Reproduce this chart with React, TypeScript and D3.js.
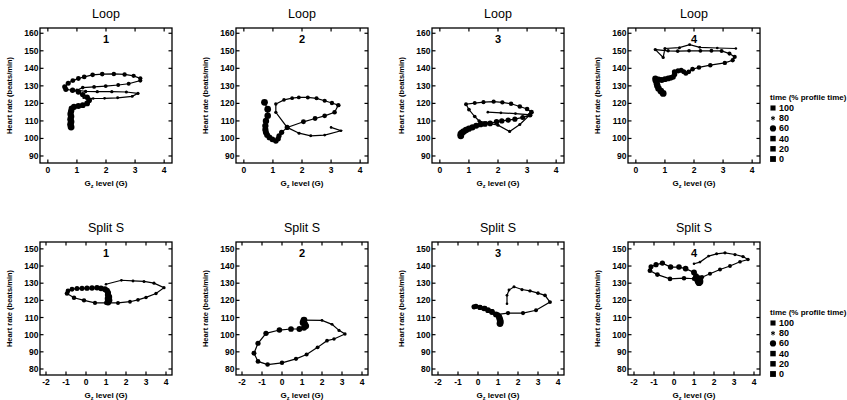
import * as d3 from "d3";

const W = 847;
const H = 400;

// panel titles / numbers
const rowTitles = ["Loop", "Split S"];
const panelNumbers = ["1", "2", "3", "4"];

// axis ticks
const loopXTicks = [0, 1, 2, 3, 4];
const loopYTicks = [90, 100, 110, 120, 130, 140, 150, 160];
const splitXTicks = [-2, -1, 0, 1, 2, 3, 4];
const splitYTicks = [80, 90, 100, 110, 120, 130, 140, 150];

const legendTitle = "time (% profile time)";
const legendLabels = ["100", "80", "60", "40", "20", "0"];

// trajectories: [Gz level, heart rate] in time order
type Pt = [number, number];

const loop1: Pt[] = [
  [0.8, 106.5], [0.78, 108], [0.8, 109.5], [0.78, 111], [0.8, 112.5], [0.78, 114], [0.8, 115.5],
  [0.82, 117], [0.9, 118], [1.05, 118.5], [1.2, 119], [1.35, 120], [1.42, 121.8], [1.35, 123.5],
  [1.2, 125], [1.05, 126.5], [0.85, 127.5], [0.62, 128], [0.58, 129.5], [0.7, 131.5], [0.86, 133],
  [1.05, 134.2], [1.25, 135.1], [1.54, 136.3], [1.87, 136.7], [2.27, 136.8], [2.64, 136.5],
  [2.95, 135.7], [3.18, 134.3], [3.18, 133], [2.78, 131.2], [2.42, 130.5], [1.99, 129.9],
  [1.59, 129.4], [1.2, 129], [1.0, 127.5], [1.3, 126.8], [1.7, 126.7], [2.2, 126.7], [2.7, 126.5],
  [3.1, 125.7], [2.9, 124], [2.4, 123.2], [1.95, 122.9], [1.56, 122.8], [1.23, 123.2],
];

const loop2: Pt[] = [
  [0.71, 120.6], [0.82, 116.7], [0.82, 112.9], [0.76, 110], [0.74, 107.2], [0.74, 105],
  [0.76, 103.4], [0.8, 102], [0.88, 100.6], [0.98, 99.5], [1.1, 98.6], [1.18, 99.8], [1.21, 101.5],
  [1.3, 103.5], [1.49, 106.3], [2.05, 109.5], [2.45, 111.4], [2.78, 112.9], [3.12, 114.9],
  [3.25, 119], [3.03, 120.2], [2.78, 121.5], [2.5, 122.9], [2.2, 123.4], [1.89, 123.4],
  [1.66, 123], [1.38, 122], [1.1, 119.6], [1.1, 114.9], [1.49, 106.3], [1.9, 103], [2.3, 101.5],
  [2.78, 101.9], [3.34, 104.4], [3.0, 106.3],
];

const loop3: Pt[] = [
  [0.72, 101.5], [0.72, 102.5], [0.76, 103.3], [0.82, 104], [0.9, 104.8], [1.0, 105.6],
  [1.12, 106.3], [1.25, 107.2], [1.4, 108], [1.55, 108.3], [1.73, 108.6], [1.95, 109.5],
  [2.13, 110], [2.35, 110.5], [2.58, 111], [2.85, 112], [3.1, 113.3], [3.15, 115], [3.0, 116.8],
  [2.75, 118.2], [2.45, 119.8], [2.15, 120.6], [1.85, 121], [1.5, 120.7], [1.2, 120.2],
  [0.9, 119.5], [1.0, 116.5], [1.2, 112.5], [1.35, 110], [1.6, 108.8], [2.0, 107.6], [2.4, 104],
  [2.75, 108], [3.1, 113.5], [2.6, 114.2], [2.1, 114.6], [1.65, 115],
];

const loop4: Pt[] = [
  [0.94, 125.7], [0.86, 127], [0.78, 128.5], [0.74, 130], [0.72, 131.4], [0.68, 133], [0.67, 134.2],
  [0.78, 133.6], [0.89, 133.3], [1.0, 133.8], [1.11, 134.2], [1.2, 134.6], [1.28, 135.1],
  [1.33, 136.5], [1.33, 138], [1.45, 138.6], [1.56, 138.9], [1.65, 138], [1.72, 137.1], [1.82, 138],
  [1.95, 139.5], [2.17, 140.5], [2.56, 141.8], [3.06, 143.1], [3.33, 144.6], [3.4, 146.5],
  [3.22, 148.4], [2.95, 149.9], [2.6, 150], [2.22, 150], [1.83, 150], [1.44, 149.8], [1.11, 150],
  [0.67, 150.7], [0.94, 146.2], [1.0, 151.3], [1.5, 151.8], [1.85, 153.5], [2.2, 152],
  [2.8, 151.6], [3.44, 151.3],
];

const split1: Pt[] = [
  [1.1, 119], [1.15, 120], [1.1, 121], [1.15, 122], [1.1, 123.2], [1.1, 124.4], [1.05, 125.6],
  [0.95, 126.5], [0.75, 127], [0.55, 127.3], [0.3, 127.2], [0.05, 127.1], [-0.2, 127],
  [-0.45, 126.9], [-0.7, 126.5], [-0.9, 125.5], [-0.95, 124], [-0.6, 121.5], [-0.1, 120],
  [0.45, 118.5], [1.0, 118.5], [1.6, 118.5], [2.2, 119.2], [2.6, 120.3], [3.0, 121.7], [3.5, 124],
  [3.9, 127.4], [3.4, 130], [2.9, 131], [2.35, 131.3], [1.77, 131.7], [1.0, 129.4],
];

const split2: Pt[] = [
  [1.1, 108.5], [1.05, 107], [1.15, 106], [1.2, 105], [1.1, 104], [0.87, 103.3], [0.45, 103.3],
  [-0.13, 102.7], [-0.8, 100.8], [-1.2, 95], [-1.4, 89.2], [-1.2, 84.4], [-0.72, 82.6], [0, 83.6],
  [0.7, 85.9], [1.23, 88.4], [1.78, 92.6], [2.25, 96.5], [2.6, 97.5], [3.15, 100.4], [2.85, 102.5],
  [2.5, 106], [2.0, 108.3], [1.0, 108.5],
];

const split3: Pt[] = [
  [1.1, 106.5], [1.12, 107.5], [1.1, 108.5], [1.08, 109.5], [1.05, 110.5], [0.9, 111.8],
  [0.7, 113.2], [0.5, 114.3], [0.3, 115.2], [0.1, 115.9], [-0.1, 116.5], [-0.2, 116.2],
  [0.1, 115.8], [0.35, 115.4], [0.7, 113.6], [1.0, 111.8], [1.5, 112.6], [2.25, 112.6],
  [2.9, 114.2], [3.6, 119], [3.35, 122.9], [3.0, 124.2], [2.6, 125.5], [2.2, 126.3], [1.8, 127.9],
  [1.55, 126], [1.45, 122.9], [1.45, 118],
];

const split4: Pt[] = [
  [1.25, 130.3], [1.3, 130.8], [1.2, 131.2], [1.3, 131.8], [1.15, 132.3], [1.25, 132.8],
  [1.1, 134], [1.0, 136.3], [0.58, 138.5], [0.25, 139.4], [-0.17, 139.4], [-0.58, 141.7],
  [-0.9, 140.8], [-1.15, 139.6], [-1.2, 137.3], [-0.83, 135], [-0.2, 132.5], [0.5, 132.9],
  [1.0, 132.6], [1.4, 133.5], [1.8, 135.5], [2.3, 138], [2.8, 140], [3.3, 142.5], [3.7, 143.8],
  [3.45, 145.5], [3.05, 146.7], [2.55, 147.7], [2.13, 147.1], [1.73, 145.8], [1.3, 142.3],
  [1.0, 141.3],
];

const loopSeries = [loop1, loop2, loop3, loop4];
const splitSeries = [split1, split2, split3, split4];

const font = "'Liberation Sans', Arial, sans-serif";

type RowCfg = {
  top: number;
  height: number;
  xDomain: [number, number];
  yDomain: [number, number];
  xTicks: number[];
  yTicks: number[];
  title: string;
  series: Pt[][];
};

const rows: RowCfg[] = [
  { top: 28, height: 135, xDomain: [-0.27, 4.27], yDomain: [86, 163], xTicks: loopXTicks, yTicks: loopYTicks, title: rowTitles[0], series: loopSeries },
  { top: 242, height: 133, xDomain: [-2.3, 4.3], yDomain: [76.5, 154], xTicks: splitXTicks, yTicks: splitYTicks, title: rowTitles[1], series: splitSeries },
];

const panelLeft = 40;
const panelStep = 196;
const panelW = 132;
const tickLen = 3.5;

function Panel({ row, idx }: { row: RowCfg; idx: number }) {
  const x0 = panelLeft + idx * panelStep;
  const y0 = row.top;
  const x = d3.scaleLinear().domain(row.xDomain).range([x0, x0 + panelW]);
  const y = d3.scaleLinear().domain(row.yDomain).range([y0 + row.height, y0]);
  const data = row.series[idx];
  const line = d3.line<Pt>().x((d) => x(d[0])).y((d) => y(d[1]));
  // marker size shrinks with elapsed profile time
  const r = d3.scaleLinear().domain([0, data.length - 1]).range([3.4, 1.3]);
  const cx = x0 + panelW / 2;
  const bottom = y0 + row.height;

  return (
    <g>
      <text x={cx} y={y0 - 10} textAnchor="middle" fontSize={12.5} fontFamily={font}>{row.title}</text>
      <text x={cx} y={y0 + 15} textAnchor="middle" fontSize={11} fontWeight="bold" fontFamily={font}>{panelNumbers[idx]}</text>
      <rect x={x0} y={y0} width={panelW} height={row.height} fill="none" stroke="#000" strokeWidth={1.3} />
      {row.xTicks.map((t) => (
        <g key={"x" + t}>
          <line x1={x(t)} x2={x(t)} y1={bottom} y2={bottom - tickLen} stroke="#000" strokeWidth={1.2} />
          <line x1={x(t)} x2={x(t)} y1={y0} y2={y0 + tickLen} stroke="#000" strokeWidth={1.2} />
          <text x={x(t)} y={bottom + 10} textAnchor="middle" fontSize={8.5} fontWeight="bold" fontFamily={font}>{t}</text>
        </g>
      ))}
      {row.yTicks.map((t) => (
        <g key={"y" + t}>
          <line x1={x0} x2={x0 + tickLen} y1={y(t)} y2={y(t)} stroke="#000" strokeWidth={1.2} />
          <line x1={x0 + panelW} x2={x0 + panelW - tickLen} y1={y(t)} y2={y(t)} stroke="#000" strokeWidth={1.2} />
          <text x={x0 - 1.5} y={y(t) + 3} textAnchor="end" fontSize={8.5} fontWeight="bold" fontFamily={font}>{t}</text>
        </g>
      ))}
      <text x={cx} y={bottom + 23} textAnchor="middle" fontSize={8} fontWeight="bold" fontFamily={font}>
        G<tspan fontSize={5.5} dy={2}>z</tspan><tspan dy={-2}> level (G)</tspan>
      </text>
      <text transform={`translate(${x0 - 28},${y0 + row.height / 2}) rotate(-90)`} textAnchor="middle" fontSize={7.5} fontWeight="bold" fontFamily={font}>
        Heart rate (beats/min)
      </text>
      <path d={line(data) || ""} fill="none" stroke="#000" strokeWidth={1.2} />
      {data.map((d, i) => (
        <circle key={i} cx={x(d[0])} cy={y(d[1])} r={r(i)} fill="#000" />
      ))}
    </g>
  );
}

function Legend({ top }: { top: number }) {
  const lx = 770;
  const step = 10.2;
  const shapes = [d3.symbolSquare, d3.symbolAsterisk, d3.symbolCircle, d3.symbolSquare, d3.symbolSquare, d3.symbolSquare];
  const sizes = [26, 14, 30, 30, 30, 34];
  return (
    <g>
      <text x={lx} y={top} fontSize={8} fontWeight="bold" fontFamily={font}>{legendTitle}</text>
      {legendLabels.map((l, i) => {
        const yy = top + 11 + i * step;
        const sym = d3.symbol().type(shapes[i]).size(sizes[i]);
        return (
          <g key={l}>
            <path d={sym() || ""} transform={`translate(${lx + 3},${yy - 3})`} fill="#000" stroke="#000" strokeWidth={i === 1 ? 1 : 0} />
            <text x={lx + 9} y={yy} fontSize={9} fontWeight="bold" fontFamily={font}>{l}</text>
          </g>
        );
      })}
    </g>
  );
}

export default function App() {
  return (
    <svg width={W} height={H} style={{ position: "absolute", left: 0, top: 0, background: "#fff" }}>
      <rect width={W} height={H} fill="#fff" />
      {rows.map((row, ri) => (
        <g key={ri}>
          {panelNumbers.map((_, i) => (
            <Panel key={i} row={row} idx={i} />
          ))}
        </g>
      ))}
      <Legend top={100} />
      <Legend top={315} />
    </svg>
  );
}
